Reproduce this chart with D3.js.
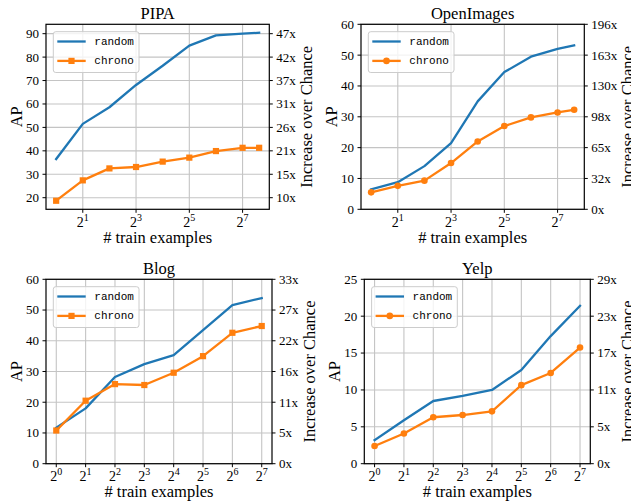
<!DOCTYPE html>
<html><head><meta charset="utf-8">
<script src="https://cdn.jsdelivr.net/npm/d3@7"></script>
<style>body{margin:0;background:#fff}svg{display:block}</style>
</head><body><svg id="c" width="631" height="502"></svg>
<script>
// ---------- data ----------
const panelTitles = ["PIPA", "OpenImages", "Blog", "Yelp"];
const seriesNames = ["random", "chrono"];
const trainSizes9 = [1, 2, 4, 8, 16, 32, 64, 128, 197];
const trainSizes8 = [1, 2, 4, 8, 16, 32, 64, 128];

const pipaRandom = [36.5, 51.5, 58.6, 68.1, 76.3, 84.9, 89.3, 90.0, 90.4];
const pipaChrono = [18.7, 27.4, 32.5, 33.1, 35.4, 37.1, 39.9, 41.3, 41.3];
const openRandom = [6.5, 8.8, 14.0, 21.5, 35.0, 44.5, 49.5, 52.0, 53.2];
const openChrono = [5.5, 7.6, 9.3, 15.0, 22.0, 27.0, 29.8, 31.4, 32.3];
const blogRandom = [11.7, 18.0, 28.2, 32.4, 35.3, 43.5, 51.6, 53.9];
const blogChrono = [10.8, 20.5, 25.9, 25.6, 29.6, 35.0, 42.6, 44.8];
const yelpRandom = [3.2, 5.9, 8.5, 9.2, 10.0, 12.7, 17.3, 21.4];
const yelpChrono = [2.4, 4.1, 6.3, 6.6, 7.1, 10.65, 12.3, 15.75];

const pipaYTicks = [20, 30, 40, 50, 60, 70, 80, 90];
const openYTicks = [0, 10, 20, 30, 40, 50, 60];
const blogYTicks = [0, 10, 20, 30, 40, 50, 60];
const yelpYTicks = [0, 5, 10, 15, 20, 25];

const pipaRightLabels = ["10x", "15x", "21x", "26x", "31x", "37x", "42x", "47x"];
const openRightLabels = ["0x", "32x", "65x", "98x", "130x", "163x", "196x"];
const blogRightLabels = ["0x", "5x", "11x", "16x", "22x", "27x", "33x"];
const yelpRightLabels = ["0x", "5x", "11x", "17x", "23x", "29x"];

const oddExponents = [1, 3, 5, 7];
const allExponents = [0, 1, 2, 3, 4, 5, 6, 7];

const pipaYLim = [15.05, 94.0];
const openYLim = [0, 60];
const blogYLim = [0, 60];
const yelpYLim = [0, 25];

const xLabel = "# train examples";
const yLabel = "AP";
const rightLabel = "Increase over Chance";

// ---------- layout / style ----------
const boxes = [
  {l: 46, t: 24.3, r: 269.3, b: 209.3},
  {l: 361, t: 24.3, r: 584.3, b: 209.3},
  {l: 46, t: 279.3, r: 272, b: 463.7},
  {l: 364.3, t: 279.3, r: 590.3, b: 463.7}
];
const panels = [
  {title: panelTitles[0], x: trainSizes9, s: [pipaRandom, pipaChrono], yt: pipaYTicks, rl: pipaRightLabels, xt: oddExponents, ylim: pipaYLim, marker: "square"},
  {title: panelTitles[1], x: trainSizes9, s: [openRandom, openChrono], yt: openYTicks, rl: openRightLabels, xt: oddExponents, ylim: openYLim, marker: "circle"},
  {title: panelTitles[2], x: trainSizes8, s: [blogRandom, blogChrono], yt: blogYTicks, rl: blogRightLabels, xt: allExponents, ylim: blogYLim, marker: "square"},
  {title: panelTitles[3], x: trainSizes8, s: [yelpRandom, yelpChrono], yt: yelpYTicks, rl: yelpRightLabels, xt: allExponents, ylim: yelpYLim, marker: "circle"}
];
const colors = ["#1f77b4", "#ff7f0e"];
const SERIF = "'Liberation Serif', 'DejaVu Serif', serif";
const MONO = "'Liberation Mono', 'DejaVu Sans Mono', monospace";
const TICK = 3.5, PAD = 3.5;

const svg = d3.select("#c");
svg.append("rect").attr("width", 631).attr("height", 502).attr("fill", "#fff");

panels.forEach((p, i) => {
  const bx = boxes[i];
  const g = svg.append("g");
  const lx = p.x.map(v => Math.log2(v));
  const lo = d3.min(lx), hi = d3.max(lx), m = (hi - lo) * 0.05;
  const x = d3.scaleLog().base(2).domain([Math.pow(2, lo - m), Math.pow(2, hi + m)]).range([bx.l, bx.r]);
  const y = d3.scaleLinear().domain(p.ylim).range([bx.b, bx.t]);

  // grid
  g.selectAll(".gx").data(p.xt).join("line")
    .attr("x1", d => x(Math.pow(2, d))).attr("x2", d => x(Math.pow(2, d)))
    .attr("y1", bx.t).attr("y2", bx.b).attr("stroke", "#c4c4c4").attr("stroke-width", 1.1);
  g.selectAll(".gy").data(p.yt).join("line")
    .attr("x1", bx.l).attr("x2", bx.r)
    .attr("y1", d => y(d)).attr("y2", d => y(d)).attr("stroke", "#c4c4c4").attr("stroke-width", 1.1);

  // lines
  const line = d3.line().x(d => x(d[0])).y(d => y(d[1]));
  p.s.forEach((vals, k) => {
    const pts = vals.map((v, j) => [p.x[j], v]);
    g.append("path").attr("d", line(pts)).attr("fill", "none")
      .attr("stroke", colors[k]).attr("stroke-width", 2.3).attr("stroke-linejoin", "round").attr("stroke-linecap", "square");
    if (k === 1) {
      if (p.marker === "square") {
        g.selectAll(".mk" + k).data(pts).join("rect")
          .attr("x", d => x(d[0]) - 3.1).attr("y", d => y(d[1]) - 3.1)
          .attr("width", 6.2).attr("height", 6.2).attr("fill", colors[k]);
      } else {
        g.selectAll(".mk" + k).data(pts).join("circle")
          .attr("cx", d => x(d[0])).attr("cy", d => y(d[1])).attr("r", 3.3).attr("fill", colors[k]);
      }
    }
  });

  // spines
  g.append("rect").attr("x", bx.l).attr("y", bx.t).attr("width", bx.r - bx.l).attr("height", bx.b - bx.t)
    .attr("fill", "none").attr("stroke", "#000").attr("stroke-width", 1.2);

  // left ticks
  const lt = g.selectAll(".lt").data(p.yt).join("g");
  lt.append("line").attr("x1", bx.l - TICK).attr("x2", bx.l).attr("y1", d => y(d)).attr("y2", d => y(d)).attr("stroke", "#000").attr("stroke-width", 1);
  const leftTexts = lt.append("text").attr("x", bx.l - TICK - PAD).attr("y", d => y(d)).attr("dy", "0.34em")
    .attr("text-anchor", "end").attr("font-family", SERIF).attr("font-size", 13).text(d => d);

  // right ticks
  const rt = g.selectAll(".rt").data(p.yt).join("g");
  rt.append("line").attr("x1", bx.r).attr("x2", bx.r + TICK).attr("y1", d => y(d)).attr("y2", d => y(d)).attr("stroke", "#000").attr("stroke-width", 1);
  const rightTexts = rt.append("text").attr("x", bx.r + TICK + PAD).attr("y", d => y(d)).attr("dy", "0.34em")
    .attr("text-anchor", "start").attr("font-family", SERIF).attr("font-size", 13).text((d, j) => p.rl[j]);

  // bottom ticks
  const bt = g.selectAll(".bt").data(p.xt).join("g");
  bt.append("line").attr("x1", d => x(Math.pow(2, d))).attr("x2", d => x(Math.pow(2, d)))
    .attr("y1", bx.b).attr("y2", bx.b + TICK).attr("stroke", "#000").attr("stroke-width", 1);
  const bl = bt.append("text").attr("x", d => x(Math.pow(2, d))).attr("y", bx.b + 17.5)
    .attr("text-anchor", "middle").attr("font-family", SERIF).attr("font-size", 14);
  bl.append("tspan").text("2");
  bl.append("tspan").attr("dy", -6).attr("font-size", 10).text(d => d);

  // title
  g.append("text").attr("x", (bx.l + bx.r) / 2).attr("y", bx.t - 5.2).attr("text-anchor", "middle")
    .attr("font-family", SERIF).attr("font-size", 16.5).text(p.title);

  // x label
  g.append("text").attr("x", (bx.l + bx.r) / 2).attr("y", bx.b + 33.5).attr("text-anchor", "middle")
    .attr("font-family", SERIF).attr("font-size", 16.5).text(xLabel);

  // y label (left)
  let lw = 0; leftTexts.each(function () { lw = Math.max(lw, this.getBBox().width); });
  const yc = (bx.t + bx.b) / 2;
  const ylx = bx.l - TICK - PAD - lw - 4.5;
  g.append("text").attr("transform", `translate(${ylx},${yc}) rotate(-90)`).attr("text-anchor", "middle")
    .attr("font-family", SERIF).attr("font-size", 16.5).text(yLabel);

  // right label
  let rw = 0; rightTexts.each(function () { rw = Math.max(rw, this.getBBox().width); });
  const rlx = bx.r + TICK + PAD + rw + 4 + 11.5;
  g.append("text").attr("transform", `translate(${rlx},${yc}) rotate(-90)`).attr("text-anchor", "middle")
    .attr("font-family", SERIF).attr("font-size", 16.5).text(rightLabel);

  // legend
  const lgx = bx.l + 7.3, lgy = bx.t + 7.4;
  const lg = g.append("g");
  lg.append("rect").attr("x", lgx).attr("y", lgy).attr("width", 85.7).attr("height", 40.8).attr("rx", 2.5)
    .attr("fill", "#fff").attr("fill-opacity", 0.8).attr("stroke", "#cccccc").attr("stroke-width", 1);
  seriesNames.forEach((nm, k) => {
    const ry = lgy + 9.8 + k * 19.4;
    lg.append("line").attr("x1", lgx + 4).attr("x2", lgx + 32.4).attr("y1", ry).attr("y2", ry)
      .attr("stroke", colors[k]).attr("stroke-width", 2.3);
    if (k === 1) {
      const cx = lgx + 18.2;
      if (p.marker === "square") lg.append("rect").attr("x", cx - 3.1).attr("y", ry - 3.1).attr("width", 6.2).attr("height", 6.2).attr("fill", colors[k]);
      else lg.append("circle").attr("cx", cx).attr("cy", ry).attr("r", 3.3).attr("fill", colors[k]);
    }
    lg.append("text").attr("x", lgx + 41).attr("y", ry).attr("dy", "0.32em")
      .attr("font-family", MONO).attr("font-size", 11).text(nm);
  });
});
</script>
</body></html>
